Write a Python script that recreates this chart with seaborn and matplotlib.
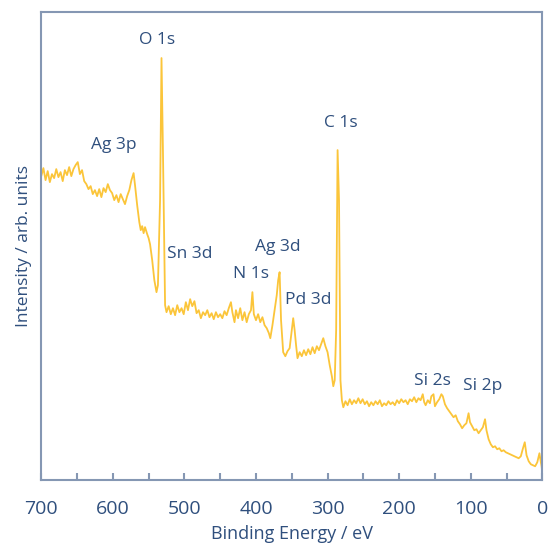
import matplotlib
matplotlib.use('Agg')
import matplotlib.pyplot as plt
import pandas as pd
import seaborn as sns
from matplotlib.ticker import MultipleLocator

# Survey spectrum (binding energy in eV, intensity in arb. units)
energy = [700, 697, 694, 691, 688, 685, 682, 679, 676, 673, 670, 667, 664, 661, 658,
          655, 652, 649, 646, 643, 640, 637, 634, 631, 628, 625, 622, 619, 616, 613,
          610, 607, 604, 601, 598, 595, 592, 589, 586, 583, 580, 577, 574, 571, 569,
          566, 563, 561, 559, 557, 555, 552, 550, 548, 545, 542, 539, 537, 534, 532,
          530, 527, 525, 522, 519, 516, 513, 510, 507, 504, 501, 498, 495, 492, 489,
          486, 483, 480, 477, 474, 471, 468, 465, 462, 459, 456, 453, 450, 447, 444,
          441, 438, 435, 433, 430, 428, 425, 422, 419, 416, 413, 410, 407, 405, 403,
          400, 397, 394, 391, 388, 385, 382, 380, 377, 374, 371, 369, 367, 365, 362,
          359, 356, 353, 350, 348, 346, 344, 342, 339, 336, 333, 330, 327, 324, 321,
          318, 315, 312, 309, 306, 303, 300, 297, 294, 292, 290, 288, 286, 284, 282,
          280, 278, 275, 272, 269, 266, 263, 260, 257, 254, 251, 248, 245, 242, 239,
          236, 233, 230, 227, 224, 221, 218, 215, 212, 209, 206, 203, 200, 197, 194,
          191, 188, 185, 182, 179, 176, 173, 170, 167, 165, 163, 160, 157, 155, 152,
          150, 147, 144, 141, 139, 136, 133, 130, 127, 124, 121, 118, 115, 112, 109,
          106, 103, 101, 98, 95, 92, 89, 86, 83, 80, 78, 75, 72, 69, 66,
          63, 60, 57, 54, 51, 48, 45, 42, 39, 36, 33, 30, 27, 24.5, 22,
          19, 16, 13, 10, 7, 4, 2, 1, 0]
intensity = [304, 312, 300, 309, 298, 306, 302, 311, 303, 308, 299, 310, 305, 313, 304,
             311, 315, 318, 306, 310, 299, 296, 291, 294, 286, 290, 284, 291, 283, 292,
             288, 296, 290, 287, 280, 285, 278, 286, 281, 276, 284, 290, 300, 307, 295,
             275, 258, 250, 254, 247, 253, 246, 242, 236, 220, 200, 188, 195, 280, 422,
             330, 175, 168, 174, 166, 172, 165, 175, 168, 172, 166, 178, 170, 181, 174,
             179, 167, 170, 162, 168, 165, 170, 163, 167, 161, 168, 163, 166, 162, 169,
             165, 172, 178, 168, 158, 170, 162, 172, 160, 168, 158, 166, 170, 188, 166,
             160, 166, 158, 163, 155, 152, 147, 142, 155, 170, 185, 200, 208, 160, 128,
             124, 129, 132, 150, 162, 150, 135, 122, 128, 124, 130, 125, 131, 126, 133,
             127, 134, 130, 136, 142, 134, 128, 115, 104, 94, 100, 150, 330, 280, 100,
             80, 73, 79, 75, 81, 76, 80, 77, 82, 77, 81, 76, 79, 74, 78,
             75, 79, 76, 80, 74, 77, 75, 79, 76, 78, 75, 80, 77, 81, 78,
             80, 76, 81, 79, 83, 78, 82, 80, 86, 78, 75, 80, 77, 84, 86,
             74, 78, 81, 86, 84, 76, 72, 69, 66, 63, 65, 59, 56, 52, 55,
             57, 67, 58, 54, 50, 51, 47, 50, 53, 61, 50, 41, 36, 33, 34,
             31, 32, 29, 30, 28, 27, 26, 25, 24, 23, 22, 24, 32, 38, 25,
             19, 16, 15, 14, 18, 27, 18, 14, 8]

# Peak labels
peak_names = ['O 1s', 'Ag 3p', 'Sn 3d', 'N 1s', 'Ag 3d', 'Pd 3d', 'C 1s', 'Si 2s', 'Si 2p']
label_x = [538, 599, 493, 407, 370, 327, 282, 154, 84]
label_y = [440, 335, 226, 206, 233, 180, 357, 99, 94]

df = pd.DataFrame({'energy': energy, 'intensity': intensity})

sns.set_style('ticks')
plt.rcParams['font.family'] = ['Open Sans', 'DejaVu Sans']

text_col = '#2f4f7d'
spine_col = '#8597b3'
line_col = '#fbc53a'

fig, ax = plt.subplots(figsize=(5.5, 5.47), dpi=100)
fig.subplots_adjust(left=0.075, right=0.986, bottom=0.122, top=0.978)

sns.lineplot(data=df, x='energy', y='intensity', color=line_col, linewidth=1.3, ax=ax)

for name, lx, ly in zip(peak_names, label_x, label_y):
    ax.text(lx, ly, name, ha='center', va='center', fontsize=12.5, color=text_col)

ax.set_xlim(700, 0)
ax.set_ylim(0, 468)
ax.xaxis.set_major_locator(MultipleLocator(100))
ax.xaxis.set_minor_locator(MultipleLocator(50))
ax.set_yticks([])
ax.tick_params(axis='x', which='both', direction='in', colors=spine_col,
               labelcolor=text_col, labelsize=14, length=5, width=1.5, pad=14)
for s in ax.spines.values():
    s.set_color(spine_col)
    s.set_linewidth(1.5)

ax.set_xlabel('Binding Energy / eV', fontsize=13, color=text_col, labelpad=5)
ax.set_ylabel('Intensity / arb. units', fontsize=12.5, color=text_col, labelpad=7)

fig.savefig('out.png', dpi=100)
